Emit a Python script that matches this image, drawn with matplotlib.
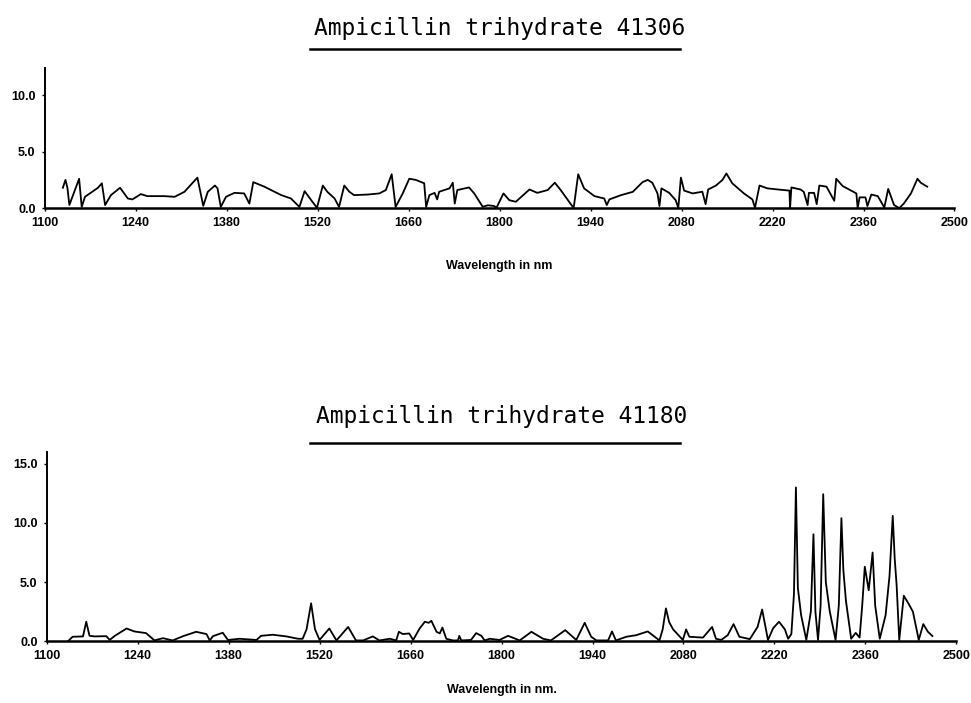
import matplotlib
matplotlib.use("Agg")
import matplotlib.pyplot as plt
from matplotlib.lines import Line2D

# upper trace: Ampicillin trihydrate 41306
wl_top = [1128, 1132, 1135, 1138, 1153, 1157, 1162, 1182, 1188, 1193, 1202, 1216,
          1228, 1235, 1248, 1258, 1284, 1300, 1315, 1335, 1344, 1351, 1362, 1366,
          1371, 1379, 1392, 1407, 1415, 1421, 1438, 1464, 1479, 1492, 1500, 1512,
          1519, 1528, 1535, 1546, 1553, 1561, 1569, 1576, 1597, 1615, 1625, 1634,
          1640, 1651, 1661, 1671, 1684, 1687, 1692, 1700, 1704, 1707, 1723, 1728,
          1731, 1735, 1753, 1761, 1774, 1782, 1792, 1795, 1806, 1815, 1825, 1846,
          1858, 1874, 1885, 1894, 1914, 1921, 1930, 1946, 1961, 1965, 1969, 1987,
          2005, 2020, 2028, 2035, 2043, 2046, 2049, 2061, 2071, 2075, 2079, 2084,
          2097, 2112, 2117, 2121, 2133, 2143, 2149, 2158, 2176, 2189, 2193, 2200,
          2212, 2228, 2246, 2247, 2249, 2263, 2268, 2274, 2276, 2284, 2288, 2292,
          2303, 2315, 2318, 2328, 2341, 2349, 2351, 2354, 2363, 2366, 2372, 2382,
          2392, 2398, 2407, 2415, 2422, 2433, 2443, 2448, 2458]
val_top = [1.8, 2.5, 1.8, 0.27, 2.6, 0.1, 1.0, 1.8, 2.2, 0.27, 1.15, 1.8,
           0.85, 0.77, 1.24, 1.06, 1.06, 1.0, 1.44, 2.7, 0.2, 1.44, 2.0, 1.75,
           0.1, 1.0, 1.35, 1.3, 0.4, 2.3, 1.9, 1.15, 0.85, 0.1, 1.5, 0.56,
           0.03, 2.0, 1.44, 0.86, 0.1, 2.0, 1.44, 1.15, 1.2, 1.3, 1.6, 3.0,
           0.1, 1.3, 2.6, 2.5, 2.2, 0.1, 1.15, 1.35, 0.77, 1.45, 1.75, 2.25,
           0.4, 1.6, 1.83, 1.3, 0.12, 0.25, 0.18, 0.0, 1.3, 0.7, 0.56, 1.65,
           1.35, 1.6, 2.25, 1.6, 0.0, 3.0, 1.75, 1.06, 0.85, 0.27, 0.77, 1.15,
           1.44, 2.3, 2.5, 2.25, 1.3, 0.18, 1.75, 1.35, 0.7, 0.0, 2.7, 1.55,
           1.3, 1.45, 0.35, 1.65, 2.0, 2.5, 3.07, 2.2, 1.3, 0.77, 0.03, 2.0,
           1.75, 1.65, 1.55, 0.0, 1.83, 1.65, 1.45, 0.27, 1.35, 1.35, 0.35, 2.0,
           1.9, 0.65, 2.6, 1.95, 1.55, 1.3, 0.0, 0.95, 0.95, 0.18, 1.2, 1.06,
           0.05, 1.7, 0.27, 0.0, 0.4, 1.3, 2.6, 2.25, 1.9]

# lower trace: Ampicillin trihydrate 41180
wl_bot = [1133, 1140, 1156, 1161, 1166, 1174, 1192, 1197, 1205, 1223, 1235, 1253,
          1266, 1279, 1294, 1310, 1330, 1346, 1351, 1356, 1371, 1379, 1397, 1423,
          1430, 1448, 1469, 1487, 1494, 1500, 1507, 1513, 1520, 1535, 1546, 1564,
          1576, 1587, 1602, 1612, 1628, 1638, 1642, 1648, 1658, 1664, 1674, 1682,
          1688, 1692, 1700, 1705, 1709, 1715, 1725, 1733, 1735, 1738, 1753, 1761,
          1769, 1774, 1782, 1797, 1810, 1828, 1846, 1864, 1876, 1898, 1915, 1928,
          1938, 1946, 1964, 1970, 1976, 1992, 2007, 2025, 2043, 2048, 2053, 2058,
          2064, 2079, 2084, 2089, 2110, 2124, 2130, 2138, 2148, 2157, 2166, 2182,
          2194, 2201, 2210, 2218, 2227, 2236, 2241, 2246, 2250, 2253, 2256, 2261,
          2269, 2276, 2280, 2283, 2287, 2291, 2295, 2299, 2305, 2314, 2319, 2323,
          2326, 2330, 2338, 2345, 2351, 2355, 2359, 2365, 2371, 2375, 2382, 2391,
          2397, 2402, 2405, 2408, 2412, 2419, 2426, 2433, 2442, 2449, 2456, 2463]
val_bot = [0.0, 0.37, 0.4, 1.64, 0.45, 0.4, 0.42, 0.1, 0.45, 1.07, 0.82, 0.68,
           0.06, 0.25, 0.06, 0.42, 0.79, 0.6, 0.06, 0.42, 0.71, 0.1, 0.2, 0.1,
           0.45, 0.54, 0.4, 0.2, 0.2, 1.0, 3.2, 1.0, 0.1, 1.07, 0.06, 1.2,
           0.06, 0.06, 0.4, 0.06, 0.2, 0.06, 0.79, 0.6, 0.65, 0.1, 1.07, 1.64,
           1.55, 1.72, 0.79, 0.65, 1.15, 0.2, 0.06, 0.06, 0.45, 0.06, 0.1, 0.68,
           0.45, 0.06, 0.2, 0.1, 0.45, 0.06, 0.79, 0.2, 0.06, 0.93, 0.1, 1.55,
           0.37, 0.06, 0.06, 0.82, 0.06, 0.37, 0.5, 0.82, 0.06, 1.0, 2.77, 1.6,
           1.0, 0.1, 0.99, 0.37, 0.3, 1.2, 0.2, 0.1, 0.5, 1.44, 0.37, 0.17,
           1.2, 2.68, 0.1, 1.1, 1.64, 1.0, 0.2, 0.6, 4.0, 13.0, 4.5, 2.2,
           0.1, 2.5, 9.04, 2.5, 0.1, 3.0, 12.43, 5.0, 2.54, 0.1, 3.0, 10.4,
           6.0, 3.4, 0.2, 0.7, 0.3, 3.0, 6.3, 4.3, 7.5, 3.0, 0.2, 2.2,
           5.5, 10.6, 7.0, 4.7, 0.1, 3.84, 3.2, 2.5, 0.1, 1.44, 0.8, 0.43]

x_ticks = [1100, 1240, 1380, 1520, 1660, 1800, 1940, 2080, 2220, 2360, 2500]
titles = ["Ampicillin trihydrate 41306", "Ampicillin trihydrate 41180"]
xlabels = ["Wavelength in nm", "Wavelength in nm."]

tick_font = dict(family="Liberation Sans", weight="bold", size=9)

fig = plt.figure(figsize=(9.71, 7.03), dpi=100)

ax1 = fig.add_axes([0.046, 0.704, 0.937, 0.199])
ax2 = fig.add_axes([0.048, 0.088, 0.937, 0.269])

panels = [
    (ax1, wl_top, val_top, 12.4, [0, 5, 10], 22, 24),
    (ax2, wl_bot, val_bot, 16.0, [0, 5, 10, 15], 16, 21),
]

for i, (ax, wl, val, ytop, yt, lpad, tpad) in enumerate(panels):
    ax.plot(wl, val, color="black", lw=1.3)
    ax.set_xlim(1100, 2500)
    ax.set_ylim(0, ytop)
    ax.set_xticks(x_ticks)
    ax.set_xticklabels([str(t) for t in x_ticks], fontdict=tick_font)
    ax.set_yticks(yt)
    ax.set_yticklabels([f"{t:.1f}" for t in yt], fontdict=tick_font)
    ax.spines["top"].set_visible(False)
    ax.spines["right"].set_visible(False)
    ax.spines["left"].set_linewidth(1.4)
    ax.spines["bottom"].set_linewidth(1.8)
    ax.tick_params(axis="both", direction="out", length=2.5, width=1, pad=4)
    ax.set_xlabel(xlabels[i], fontdict=tick_font, labelpad=lpad)
    ax.set_title(titles[i], family="DejaVu Sans Mono", fontsize=16.5, pad=tpad)

# underlines below the titles
for yline in [1 - 49 / 703, 1 - 443 / 703]:
    fig.add_artist(Line2D([310 / 971, 680 / 971], [yline, yline],
                          transform=fig.transFigure, color="black", lw=1.8))

fig.savefig("out.png", dpi=100)
